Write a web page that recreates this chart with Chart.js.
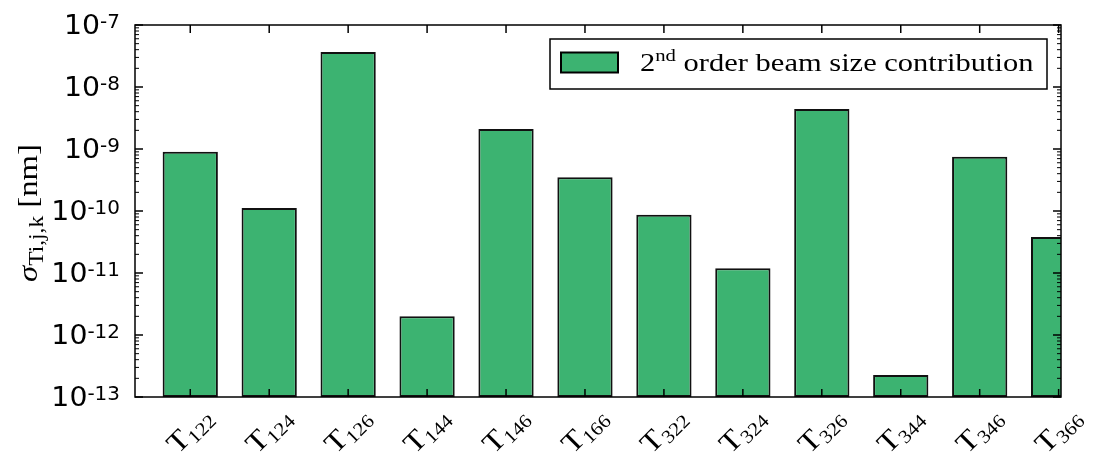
<!DOCTYPE html>
<html>
<head>
<meta charset="utf-8">
<script src="https://cdn.jsdelivr.net/npm/chart.js@4.4.0/dist/chart.umd.min.js"></script>
<style>
  html, body { margin: 0; padding: 0; background: #fff; }
  #wrap { width: 1093px; height: 452px; }
</style>
</head>
<body>
<div id="wrap"><canvas id="myChart" width="1093" height="452"></canvas></div>
<script>
(() => {
    'use strict'

    // data (log scale)
    const subscripts = ['122', '124', '126', '144', '146', '166', '322', '324', '326', '344', '346', '366']
    const contribution = [9.0e-10, 1.12e-10, 3.67e-8, 2.0e-12, 2.1e-9, 3.5e-10, 8.7e-11, 1.19e-11, 4.42e-9, 2.26e-13, 7.5e-10, 3.8e-11]
    const decades = [-13, -12, -11, -10, -9, -8, -7]
    const legendOrder = ['2', 'nd', ' order beam size contribution']

    const green = '#3cb371'
    const sans = '"DejaVu Sans", sans-serif'
    const serif = '"Liberation Serif", "DejaVu Serif", serif'
    const stretch = 1.17 // Times is narrower than the Computer Modern in the picture

    // draws a list of [text, font, dy] pieces one after another
    function runsWidth(ctx, parts, sx) {
        let w = 0
        parts.forEach(([t, f]) => { ctx.font = f; w += ctx.measureText(t).width })
        return w * sx
    }
    function drawRuns(ctx, parts, x, y, sx) {
        ctx.save()
        ctx.translate(x, y)
        ctx.scale(sx, 1)
        let cx = 0
        parts.forEach(([t, f, dy]) => {
            ctx.font = f
            ctx.fillText(t, cx, dy)
            cx += ctx.measureText(t).width
        })
        ctx.restore()
    }
    function seg(ctx, x1, y1, x2, y2) {
        ctx.beginPath(); ctx.moveTo(x1, y1); ctx.lineTo(x2, y2); ctx.stroke()
    }

    const decor = {
        id: 'decor',
        afterDatasetsDraw(chart) {
            const { ctx, chartArea: a, scales: { x, y } } = chart
            ctx.save()
            ctx.strokeStyle = '#000'
            ctx.fillStyle = '#000'

            // frame
            ctx.lineWidth = 1.5
            ctx.strokeRect(a.left, a.top, a.right - a.left, a.bottom - a.top)

            // x ticks (bottom + top, inward)
            subscripts.forEach((s, i) => {
                const px = x.getPixelForValue(i)
                seg(ctx, px, a.bottom, px, a.bottom - 8)
                seg(ctx, px, a.top, px, a.top + 8)
            })

            // y ticks (left + right, inward)
            decades.forEach(d => {
                const py = y.getPixelForValue(Math.pow(10, d))
                ctx.lineWidth = 1.5
                seg(ctx, a.left, py, a.left + 8, py)
                seg(ctx, a.right, py, a.right - 8, py)
                if (d < -7) {
                    ctx.lineWidth = 1
                    for (let m = 2; m <= 9; m++) {
                        const pm = y.getPixelForValue(m * Math.pow(10, d))
                        seg(ctx, a.left, pm, a.left + 4, pm)
                        seg(ctx, a.right, pm, a.right - 4, pm)
                    }
                }
            })

            // y tick labels 10^d
            ctx.textBaseline = 'alphabetic'
            ctx.textAlign = 'left'
            decades.forEach(d => {
                const py = y.getPixelForValue(Math.pow(10, d))
                const parts = [['10', '27px ' + sans, 9], [String(d), '19px ' + sans, 3]]
                const w = runsWidth(ctx, parts, 1.05)
                drawRuns(ctx, parts, a.left - 15 - w, py, 1.05)
            })

            // x tick labels T_ijk, rotated 45 deg
            subscripts.forEach((s, i) => {
                const px = x.getPixelForValue(i)
                const parts = [['T', '29px ' + serif, 0], [s, '19px ' + serif, 5]]
                const w = runsWidth(ctx, parts, 1.1)
                ctx.save()
                ctx.translate(px, a.bottom + 34)
                ctx.rotate(-Math.PI / 4)
                drawRuns(ctx, parts, -w / 2, 8, 1.1)
                ctx.restore()
            })

            // y axis title
            const tparts = [['\u03c3', 'italic 28px ' + serif, 0], ['Ti,j,k', '20px ' + serif, 6], [' [nm]', '28px ' + serif, 0]]
            const tw = runsWidth(ctx, tparts, stretch)
            ctx.save()
            ctx.translate(37, 213)
            ctx.rotate(-Math.PI / 2)
            drawRuns(ctx, tparts, -tw / 2, 0, stretch)
            ctx.restore()

            // legend
            const bw = 497, bh = 50
            const bx = a.right - 14 - bw, by = a.top + 14
            ctx.fillStyle = '#fff'
            ctx.fillRect(bx, by, bw, bh)
            ctx.lineWidth = 1.5
            ctx.strokeRect(bx, by, bw, bh)
            ctx.fillStyle = green
            ctx.fillRect(bx + 11, by + 13.5, 57, 20)
            ctx.lineWidth = 2
            ctx.strokeRect(bx + 11, by + 13.5, 57, 20)
            ctx.fillStyle = '#000'
            const lparts = [[legendOrder[0], '25px ' + serif, 0], [legendOrder[1], '17px ' + serif, -10], [legendOrder[2], '25px ' + serif, 0]]
            drawRuns(ctx, lparts, bx + 90, by + 32, 1.22)

            ctx.restore()
        }
    }

    const ctx = document.getElementById('myChart')
    new Chart(ctx, {
        type: 'bar',
        data: {
            datasets: [{
                label: legendOrder.join(''),
                data: contribution.map((v, i) => ({ x: i, y: v })),
                backgroundColor: green,
                borderColor: '#111',
                borderWidth: 2,
                borderSkipped: false,
                barPercentage: 0.7,
                categoryPercentage: 1.0
            }]
        },
        options: {
            responsive: false,
            animation: false,
            events: [],
            layout: { padding: { left: 135, top: 25, right: 32, bottom: 55 } },
            scales: {
                x: {
                    type: 'linear', min: -0.7, max: 11.03, offset: false, display: false,
                    // one tick per category so the bar width follows the category spacing
                    afterBuildTicks: s => { s.ticks = subscripts.map((_, i) => ({ value: i })) }
                },
                y: { type: 'logarithmic', min: 1e-13, max: 1e-7, display: false }
            },
            plugins: {
                legend: { display: false },
                tooltip: { enabled: false }
            }
        },
        plugins: [decor]
    })
})()
</script>
</body>
</html>
